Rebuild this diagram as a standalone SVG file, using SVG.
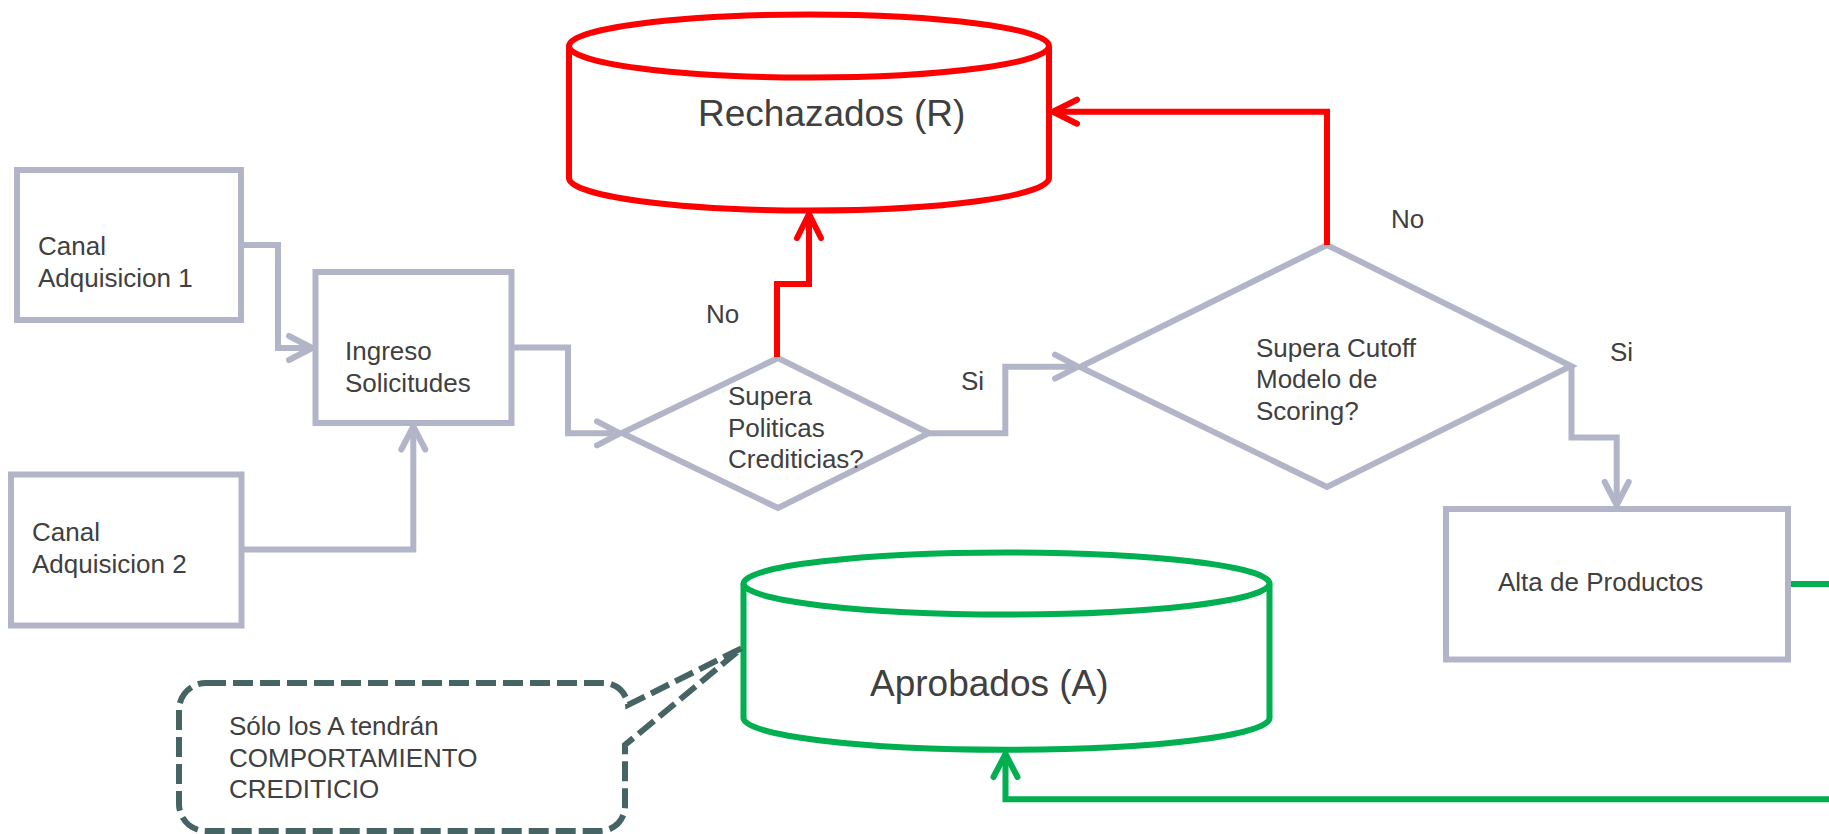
<svg xmlns="http://www.w3.org/2000/svg" width="1829" height="834" viewBox="0 0 1829 834">
  <style>
    .box { fill: #FFFFFF; stroke: #B2B5C7; stroke-width: 6; }
    .txt { font-family: "Liberation Sans", Arial, sans-serif; font-size: 26px; fill: #404040; }
    .big { font-size: 37px; }
    .grey { fill: none; stroke: #B2B5C7; stroke-width: 6; }
    .red { fill: none; stroke: #FF0000; stroke-width: 6; }
    .green { fill: none; stroke: #00B050; stroke-width: 6; }
    .callout { fill: #FFFFFF; stroke: #466464; stroke-width: 6; stroke-dasharray: 20 7; }
    .tip { fill: none; stroke-width: 6; stroke-linecap: round; stroke-linejoin: round; }
  </style>
  <defs>
    <marker id="arrGrey" markerUnits="userSpaceOnUse" markerWidth="60" markerHeight="60" refX="0" refY="0" orient="auto" overflow="visible">
      <path class="tip" stroke="#B2B5C7" d="M -23 -12 L 0 0 L -23 12"/>
    </marker>
    <marker id="arrRed" markerUnits="userSpaceOnUse" markerWidth="60" markerHeight="60" refX="0" refY="0" orient="auto" overflow="visible">
      <path class="tip" stroke="#FF0000" d="M -24 -12 L 0 0 L -24 12"/>
    </marker>
    <marker id="arrGreen" markerUnits="userSpaceOnUse" markerWidth="60" markerHeight="60" refX="0" refY="0" orient="auto" overflow="visible">
      <path class="tip" stroke="#00B050" d="M -23 -12 L 0 0 L -23 12"/>
    </marker>
  </defs>
  <rect width="1829" height="834" fill="#FFFFFF"/>

  <g id="canal1">
    <rect class="box" x="17" y="170" width="224" height="150"/>
    <text class="txt" x="38" y="255">Canal</text>
    <text class="txt" x="38" y="287">Adquisicion 1</text>
  </g>

  <g id="canal2">
    <rect class="box" x="11" y="474.5" width="230.5" height="151"/>
    <text class="txt" x="32" y="541">Canal</text>
    <text class="txt" x="32" y="573">Adquisicion 2</text>
  </g>

  <g id="ingreso">
    <rect class="box" x="315.5" y="272" width="196" height="151"/>
    <text class="txt" x="345" y="360">Ingreso</text>
    <text class="txt" x="345" y="392">Solicitudes</text>
  </g>

  <g id="politicas">
    <polygon class="box" points="622,433 778,358 929,433 778,508"/>
    <text class="txt" x="728" y="405">Supera</text>
    <text class="txt" x="728" y="437">Politicas</text>
    <text class="txt" x="728" y="468">Crediticias?</text>
  </g>

  <g id="scoring">
    <polygon class="box" points="1080,367 1327,245 1571,366 1327,487"/>
    <text class="txt" x="1256" y="357">Supera Cutoff</text>
    <text class="txt" x="1256" y="388">Modelo de</text>
    <text class="txt" x="1256" y="420">Scoring?</text>
  </g>

  <g id="alta">
    <rect class="box" x="1446" y="509" width="342" height="150.5"/>
    <text class="txt" x="1498" y="591">Alta de Productos</text>
  </g>

  <g id="rechazados">
    <path d="M 569 46 V 178 A 240 32.5 0 0 0 1049 178 V 46" fill="#FFFFFF" stroke="#FF0000" stroke-width="6"/>
    <ellipse cx="809" cy="46" rx="240" ry="31.5" fill="#FFFFFF" stroke="#FF0000" stroke-width="6"/>
    <text class="txt big" x="698" y="126">Rechazados (R)</text>
  </g>

  <g id="aprobados">
    <path d="M 743.5 583.5 V 718 A 263 31.7 0 0 0 1269.5 718 V 583.5" fill="#FFFFFF" stroke="#00B050" stroke-width="6"/>
    <ellipse cx="1006.5" cy="583.5" rx="263" ry="31" fill="#FFFFFF" stroke="#00B050" stroke-width="6"/>
    <text class="txt big" x="870" y="696">Aprobados (A)</text>
  </g>

  <g id="nota">
    <path class="callout" d="M 206 683 H 602 A 25 25 0 0 1 628 705 L 742 648 L 625 745 V 806 A 25 25 0 0 1 600 831 H 206 A 27 27 0 0 1 179 804 V 710 A 27 27 0 0 1 206 683 Z"/>
    <text class="txt" x="229" y="735">Sólo los A tendrán</text>
    <text class="txt" x="229" y="767">COMPORTAMIENTO</text>
    <text class="txt" x="229" y="798">CREDITICIO</text>
  </g>

  <g id="connectors">
    <path class="grey" d="M 241 245 H 278 V 348 H 312" marker-end="url(#arrGrey)"/>
    <path class="grey" d="M 241.5 549.5 H 413.3 V 426.5" marker-end="url(#arrGrey)"/>
    <path class="grey" d="M 511.5 347.5 H 568 V 433.3 H 620" marker-end="url(#arrGrey)"/>
    <path class="grey" d="M 929 433.3 H 1005.3 V 366.7 H 1078" marker-end="url(#arrGrey)"/>
    <path class="grey" d="M 1571.5 366 V 437.5 H 1616.7 V 505" marker-end="url(#arrGrey)"/>
    <path class="red" d="M 777 357 V 284 H 809 V 214" marker-end="url(#arrRed)"/>
    <path class="red" d="M 1327 245 V 111.7 H 1053" marker-end="url(#arrRed)"/>
    <path class="green" d="M 1791 584 H 1850 V 799.3 H 1005.5 V 754" marker-end="url(#arrGreen)"/>
    <text class="txt" x="706" y="323">No</text>
    <text class="txt" x="961" y="390">Si</text>
    <text class="txt" x="1391" y="228">No</text>
    <text class="txt" x="1610" y="361">Si</text>
  </g>
</svg>
